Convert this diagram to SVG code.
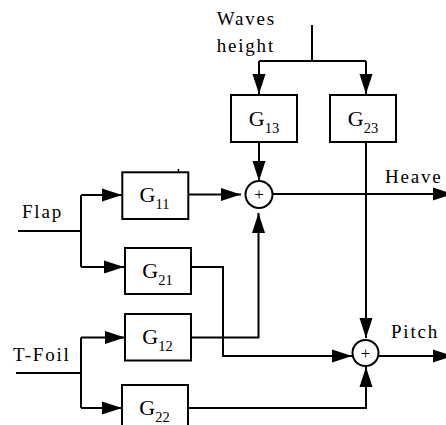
<svg xmlns="http://www.w3.org/2000/svg" width="446" height="425" viewBox="0 0 446 425">
<style>
.box{fill:#fff;stroke:#000;stroke-width:2}
.ln{fill:none;stroke:#000;stroke-width:2}
.lbl{font-family:"Liberation Serif","Times New Roman",serif;font-size:19px;letter-spacing:1.8px;fill:#000}
.g{font-family:"Liberation Serif","Times New Roman",serif;font-size:22px;fill:#000;text-anchor:middle}
.sub{font-size:14.5px}
.sum{fill:#fff;stroke:#000;stroke-width:2}
.plus{font-family:"Liberation Serif","Times New Roman",serif;font-size:17px;fill:#000;text-anchor:middle}
</style>
<defs>
<marker id="ah" markerUnits="userSpaceOnUse" markerWidth="21" markerHeight="14" refX="20" refY="6.5" orient="auto" overflow="visible">
<path d="M0,0 L20,6.5 L0,13 z" fill="#000"/>
</marker>
</defs>
<g id="connectors">
<path class="ln" d="M312,25 V61"/>
<path class="ln" d="M259,61 H366"/>
<path class="ln" d="M259,61 V94" marker-end="url(#ah)"/>
<path class="ln" d="M366,61 V94" marker-end="url(#ah)"/>
<path class="ln" d="M259,142 V181" marker-end="url(#ah)"/>
<path class="ln" d="M366,142 V338" marker-end="url(#ah)"/>
<path class="ln" d="M188,194.5 H241" marker-end="url(#ah)"/>
<path class="ln" d="M272.5,194 H453" marker-end="url(#ah)"/>
<path class="ln" d="M18,231 H81"/>
<path class="ln" d="M81,195 V267"/>
<path class="ln" d="M81,195 H122" marker-end="url(#ah)"/>
<path class="ln" d="M81,267 H124" marker-end="url(#ah)"/>
<path class="ln" d="M191,267 H223 V356 H352" marker-end="url(#ah)"/>
<path class="ln" d="M188,337.5 H258.5 V213" marker-end="url(#ah)"/>
<path class="ln" d="M16,373 H81"/>
<path class="ln" d="M81,337.5 V408"/>
<path class="ln" d="M81,337.5 H125" marker-end="url(#ah)"/>
<path class="ln" d="M81,408 H122" marker-end="url(#ah)"/>
<path class="ln" d="M188,408 H366 V367" marker-end="url(#ah)"/>
<path class="ln" d="M378.5,356 H453" marker-end="url(#ah)"/>
</g>
<g id="G13">
<rect class="box" x="231" y="95" width="66" height="47"/>
<text class="g" x="264" y="125.5">G<tspan class="sub" dy="7">13</tspan></text>
</g>
<g id="G23">
<rect class="box" x="330" y="95" width="66" height="47"/>
<text class="g" x="363" y="125.5">G<tspan class="sub" dy="7">23</tspan></text>
</g>
<g id="G11">
<rect class="box" x="122.3" y="172.3" width="66" height="46.7"/>
<path d="M178.5,169 V172" stroke="#000" stroke-width="1.5"/>
<text class="g" x="154.5" y="202.3">G<tspan class="sub" dy="7">11</tspan></text>
</g>
<g id="G21">
<rect class="box" x="125" y="248" width="66" height="46"/>
<text class="g" x="157.5" y="278">G<tspan class="sub" dy="7">21</tspan></text>
</g>
<g id="G12">
<rect class="box" x="125" y="314" width="66" height="46.5"/>
<text class="g" x="157.5" y="344.3">G<tspan class="sub" dy="7">12</tspan></text>
</g>
<g id="G22">
<rect class="box" x="122" y="385" width="66" height="46"/>
<text class="g" x="154.5" y="415">G<tspan class="sub" dy="7">22</tspan></text>
</g>
<g id="sum1">
<circle class="sum" cx="259" cy="194.5" r="13.5"/>
<text class="plus" x="259" y="200">+</text>
</g>
<g id="sum2">
<circle class="sum" cx="365.5" cy="353" r="13"/>
<text class="plus" x="365.5" y="358.5">+</text>
</g>
<g id="labels">
<text class="lbl" x="216.7" y="25">Waves</text>
<text class="lbl" x="216.7" y="52">height</text>
<text class="lbl" x="385" y="183">Heave</text>
<text class="lbl" x="391" y="338">Pitch</text>
<text class="lbl" x="22" y="218">Flap</text>
<text class="lbl" x="13" y="361">T-Foil</text>
</g>
</svg>
